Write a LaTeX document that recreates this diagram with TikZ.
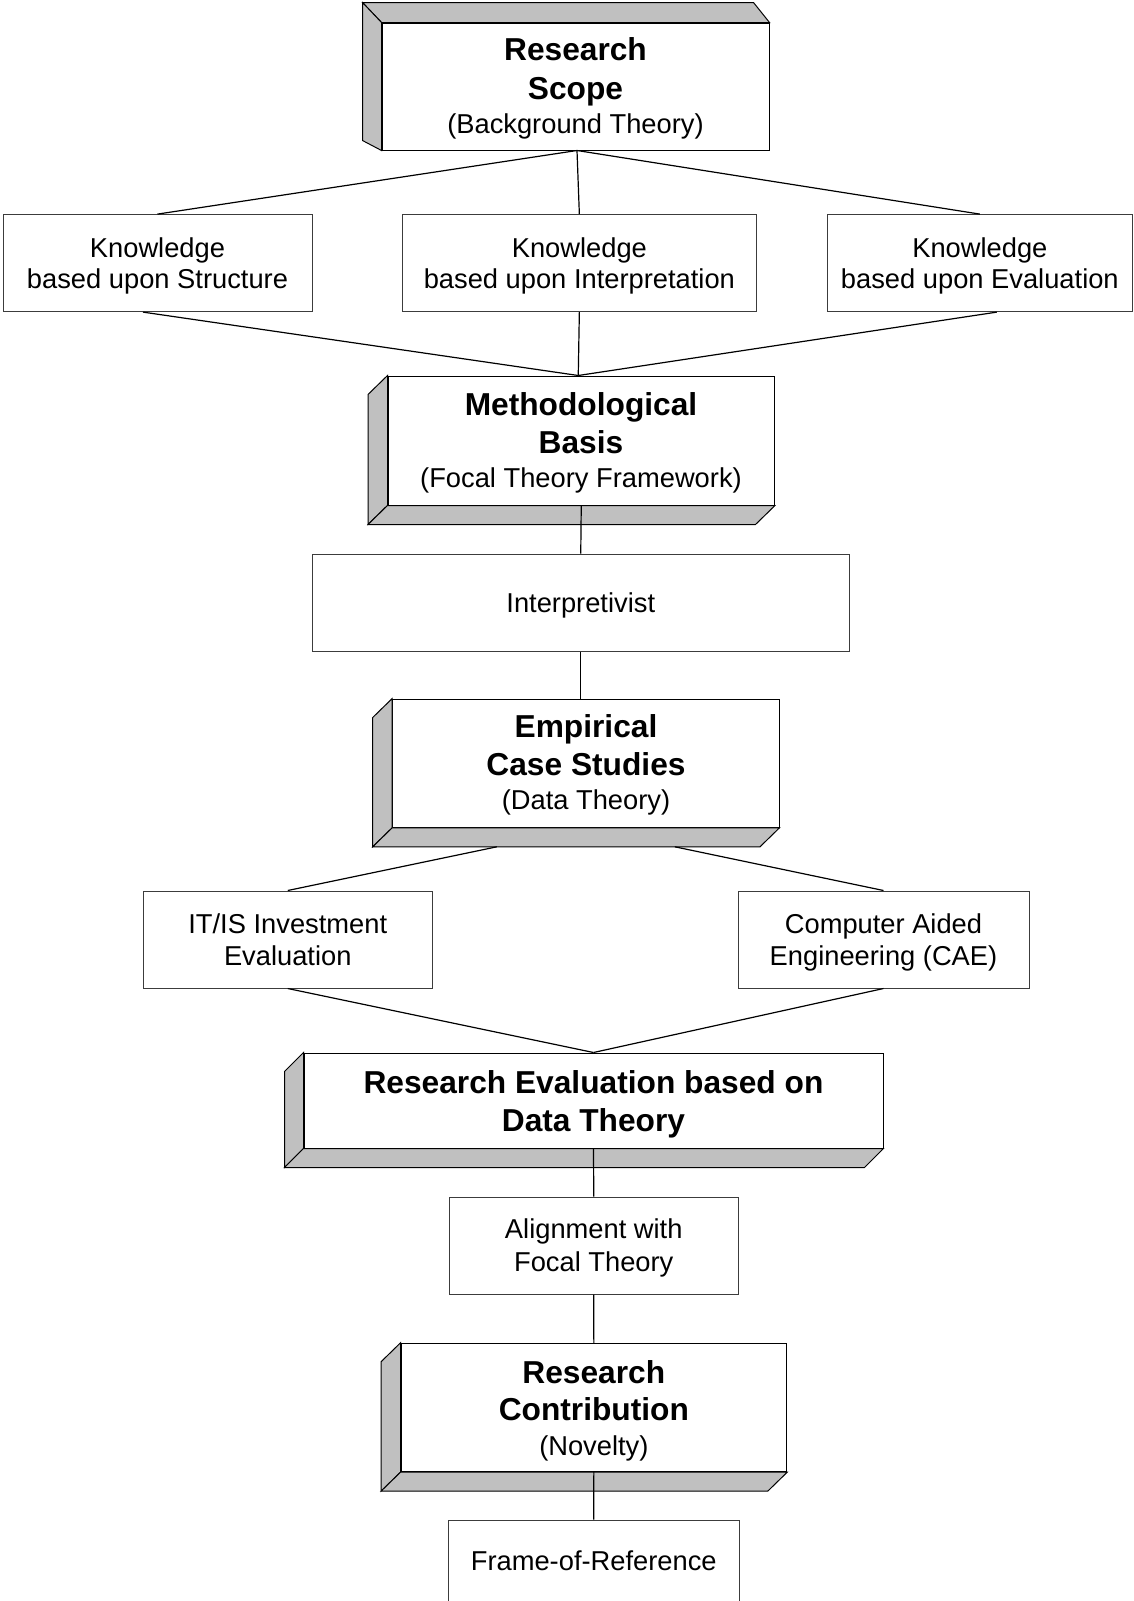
\documentclass[tikz,border=0pt]{standalone}
\usepackage{fontspec}
\setmainfont{Liberation Sans}
\usetikzlibrary{calc}
\newcommand\dgreg{\fontsize{27.3}{32}\selectfont}
\newcommand\dgbold{\fontsize{31.7}{38}\selectfont\bfseries}
\definecolor{facegray}{RGB}{192,192,192}
\definecolor{rimgray}{RGB}{60,60,60}

\begin{document}
\begin{tikzpicture}[x=1pt,y=-1pt,
  plainbox/.style={draw=rimgray, line width=1pt, fill=white, inner sep=0pt},
  frontface/.style={draw=black, line width=1pt, fill=white, inner sep=0pt},
  sideface/.style={draw=black, line width=1pt, fill=facegray, line join=miter},
  link/.style={draw=black, line width=1.2pt},
  regtxt/.style={anchor=base, inner sep=0pt, font=\dgreg},
  headtxt/.style={anchor=base, inner sep=0pt, font=\dgbold}]

\clip (0,0) rectangle (1133,1601);
\fill[white] (0,0) rectangle (1133,1601);

% ---------- Research Scope (raised block, top and left faces)
\node[frontface, minimum width=387pt, minimum height=127pt] (scope) at (575.5,86.5) {};
\filldraw[sideface] ($(scope.north west)+(-19,-20)$) -- ($(scope.north east)+(-16,-20)$)
  -- (scope.north east) -- (scope.north west) -- cycle;
\filldraw[sideface] ($(scope.north west)+(-19,-20)$) -- (scope.north west)
  -- (scope.south west) -- ($(scope.south west)+(-19,-10)$) -- cycle;
\node[headtxt] (scope-1) at (575.5,60) {Research};
\node[headtxt] (scope-2) at (575.5,99) {Scope};
\node[regtxt]  (scope-3) at (575.5,133.5) {(Background Theory)};

% ---------- knowledge boxes
\node[plainbox, minimum width=309pt, minimum height=97pt] (k1) at (157.5,263.1) {};
\node[plainbox, minimum width=354.7pt, minimum height=97pt] (k2) at (579.35,263.1) {};
\node[plainbox, minimum width=304.3pt, minimum height=97pt] (k3) at (979.85,263.1) {};
\node[regtxt] (k1-1) at (157.5,257) {Knowledge};
\node[regtxt] (k1-2) at (157.5,288.5) {based upon Structure};
\node[regtxt] (k2-1) at (579.35,257) {Knowledge};
\node[regtxt] (k2-2) at (579.35,288.5) {based upon Interpretation};
\node[regtxt] (k3-1) at (979.85,257) {Knowledge};
\node[regtxt] (k3-2) at (979.85,288.5) {based upon Evaluation};

% ---------- Methodological Basis (left and bottom faces)
\node[frontface, minimum width=386.5pt, minimum height=129pt] (meth) at (581.25,440.5) {};
\filldraw[sideface] ($(meth.north west)+(-19.5,19)$) -- (meth.north west)
  -- (meth.south west) -- ($(meth.south west)+(-19.5,19)$) -- cycle;
\filldraw[sideface] (meth.south west) -- (meth.south east)
  -- ($(meth.south east)+(-19.5,19)$) -- ($(meth.south west)+(-19.5,19)$) -- cycle;
\node[headtxt] (meth-1) at (581,415) {Methodological};
\node[headtxt] (meth-2) at (581,453.5) {Basis};
\node[regtxt]  (meth-3) at (581,487) {(Focal Theory Framework)};

% ---------- Interpretivist
\node[plainbox, minimum width=537pt, minimum height=97pt] (interp) at (580.75,602.5) {};
\node[regtxt] (interp-1) at (580.75,612) {Interpretivist};

% ---------- Empirical Case Studies
\node[frontface, minimum width=386.3pt, minimum height=128.3pt] (emp) at (585.85,763.15) {};
\filldraw[sideface] ($(emp.north west)+(-19.5,19)$) -- (emp.north west)
  -- (emp.south west) -- ($(emp.south west)+(-19.5,19)$) -- cycle;
\filldraw[sideface] (emp.south west) -- (emp.south east)
  -- ($(emp.south east)+(-19.5,19)$) -- ($(emp.south west)+(-19.5,19)$) -- cycle;
\node[headtxt] (emp-1) at (586,737.5) {Empirical};
\node[headtxt] (emp-2) at (586,775) {Case Studies};
\node[regtxt]  (emp-3) at (586,809.5) {(Data Theory)};

% ---------- case study domains
\node[plainbox, minimum width=289.5pt, minimum height=97pt] (itis) at (287.75,939.5) {};
\node[plainbox, minimum width=291pt, minimum height=97pt] (cae) at (883.5,939.5) {};
\node[regtxt] (itis-1) at (287.75,933.5) {IT/IS Investment};
\node[regtxt] (itis-2) at (287.75,965.5) {Evaluation};
\node[regtxt] (cae-1) at (883.5,933.5) {Computer Aided};
\node[regtxt] (cae-2) at (883.5,965.5) {Engineering (CAE)};

% ---------- Research Evaluation
\node[frontface, minimum width=579pt, minimum height=95pt] (reval) at (593.5,1100.5) {};
\filldraw[sideface] ($(reval.north west)+(-19,19)$) -- (reval.north west)
  -- (reval.south west) -- ($(reval.south west)+(-19,19)$) -- cycle;
\filldraw[sideface] (reval.south west) -- (reval.south east)
  -- ($(reval.south east)+(-19,19)$) -- ($(reval.south west)+(-19,19)$) -- cycle;
\node[headtxt] (reval-1) at (593.5,1093) {Research Evaluation based on};
\node[headtxt] (reval-2) at (593.5,1131) {Data Theory};

% ---------- Alignment
\node[plainbox, minimum width=289.5pt, minimum height=97pt] (align) at (593.75,1245.5) {};
\node[regtxt] (align-1) at (593.75,1238.5) {Alignment with};
\node[regtxt] (align-2) at (593.75,1271.5) {Focal Theory};

% ---------- Research Contribution
\node[frontface, minimum width=385.7pt, minimum height=128.4pt] (contrib) at (593.85,1407.5) {};
\filldraw[sideface] ($(contrib.north west)+(-19.5,19)$) -- (contrib.north west)
  -- (contrib.south west) -- ($(contrib.south west)+(-19.5,19)$) -- cycle;
\filldraw[sideface] (contrib.south west) -- (contrib.south east)
  -- ($(contrib.south east)+(-19.5,19)$) -- ($(contrib.south west)+(-19.5,19)$) -- cycle;
\node[headtxt] (contrib-1) at (593.85,1383) {Research};
\node[headtxt] (contrib-2) at (593.85,1420) {Contribution};
\node[regtxt]  (contrib-3) at (593.85,1455.5) {(Novelty)};

% ---------- Frame-of-Reference
\node[plainbox, minimum width=290.5pt, minimum height=97pt] (frame) at (593.75,1568.5) {};
\node[regtxt] (frame-1) at (593.75,1570) {Frame-of-Reference};

% ---------- connectors
\coordinate (scopefoot) at ($(scope.south)+(1.5,0)$);
\draw[link] (scopefoot) -- (k1.north);
\draw[link] (scopefoot) -- (k2.north);
\draw[link] (scopefoot) -- (k3.north);

\coordinate (methtop) at ($(meth.north)+(-3,0)$);
\draw[link] ($(k1.south)+(-14.5,0)$) -- (methtop);
\draw[link] (k2.south) -- (methtop);
\draw[link] ($(k3.south)+(17,0)$) -- (methtop);

\draw[link] (meth.south) -- (interp.north);
\draw[link] (interp.south) -- (interp.south |- emp.north);

\coordinate (empleft) at ($(emp.south)+(-89,19)$);
\coordinate (empright) at ($(emp.south)+(89,19)$);
\draw[link] (empleft) -- (itis.north);
\draw[link] (empright) -- (cae.north);

\draw[link] (itis.south) -- (reval.north);
\draw[link] (cae.south) -- (reval.north);

\draw[link] (reval.south) -- (align.north);
\draw[link] (align.south) -- (contrib.north);
\draw[link] (contrib.south) -- (frame.north);

\end{tikzpicture}
\end{document}
